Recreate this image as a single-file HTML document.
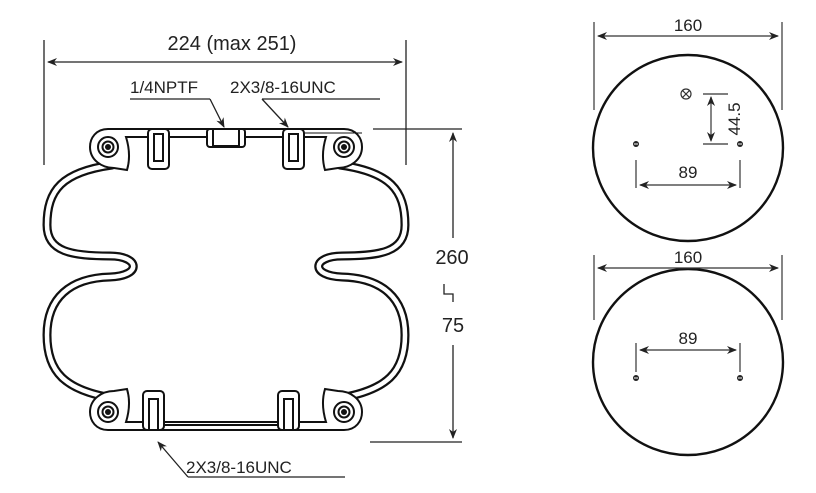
<!DOCTYPE html>
<html><head><meta charset="utf-8"><style>
html,body{margin:0;padding:0;background:#fff;}
svg{display:block;font-family:"Liberation Sans",Arial,sans-serif;}
</style></head><body>
<svg width="816" height="493" viewBox="0 0 816 493" xmlns="http://www.w3.org/2000/svg">
<defs>
<marker id="a" viewBox="0 0 10 10" refX="9" refY="5" markerWidth="10" markerHeight="10" orient="auto-start-reverse" markerUnits="userSpaceOnUse"><path d="M0,1 L10,5 L0,9 L3,5 Z" fill="#222"/></marker>
<g id="side">
<path d="M112,165 C62,172 47,190 47,225 C47,252 72,256 110,256 C140,256 142,276 110,277 C70,278 47,298 47,335 C47,372 65,390 112,398" fill="none"/>
</g>
</defs>
<g stroke="#222" stroke-width="1.3" fill="none">
<line x1="44" y1="40" x2="44" y2="165"/>
<line x1="406" y1="40" x2="406" y2="165"/>
<line x1="48" y1="62" x2="402" y2="62" marker-start="url(#a)" marker-end="url(#a)"/>
<line x1="130" y1="99" x2="210" y2="99"/>
<line x1="210" y1="99" x2="224" y2="127" marker-end="url(#a)"/>
<line x1="262" y1="99" x2="380" y2="99"/>
<line x1="262" y1="99" x2="288" y2="127" marker-end="url(#a)"/>
<line x1="373" y1="129" x2="462" y2="129"/>
<line x1="370" y1="442" x2="462" y2="442"/>
<line x1="453" y1="133" x2="453" y2="238" marker-start="url(#a)"/>
<line x1="453" y1="345" x2="453" y2="438" marker-end="url(#a)"/>
<polyline points="444,284 444,294 453,294 453,302"/>
<line x1="188" y1="477" x2="158" y2="442" marker-end="url(#a)"/>
<line x1="188" y1="477" x2="345" y2="477"/>
</g>
<g fill="#222" font-size="20">
<text x="232" y="50" text-anchor="middle">224 (max 251)</text>
<text x="452" y="264" text-anchor="middle">260</text>
<text x="453" y="332" text-anchor="middle">75</text>
</g>
<g fill="#222" font-size="17">
<text x="130" y="93">1/4NPTF</text>
<text x="230" y="93">2X3/8-16UNC</text>
<text x="186" y="473">2X3/8-16UNC</text>
</g>
<g fill="none" stroke-linejoin="round" stroke-linecap="round">
<g stroke="#111" stroke-width="9">
<use href="#side"/><use href="#side" transform="translate(452,0) scale(-1,1)"/>
</g>
<g stroke="#fff" stroke-width="4.5">
<use href="#side"/><use href="#side" transform="translate(452,0) scale(-1,1)"/>
</g>
</g>
<g fill="#fff" stroke="#111" stroke-width="2">
<path d="M108,129 L344,129 C356,129 362,138 362,147 C362,160 350,168 338,168 L325,170 C322,160 322,150 326,137 L126,137 C130,150 130,160 127,170 L114,168 C102,168 90,160 90,147 C90,138 96,129 108,129 Z"/>
<circle cx="108" cy="147" r="10"/><circle cx="344" cy="147" r="10"/>
<circle cx="108" cy="147" r="5.5"/><circle cx="344" cy="147" r="5.5"/>
<rect x="148" y="129" width="21" height="40" rx="4"/>
<rect x="283" y="129" width="21" height="40" rx="4"/>
<rect x="154" y="134" width="9" height="27"/>
<rect x="289" y="134" width="9" height="27"/>
<rect x="207" y="129" width="38" height="18" rx="3"/>
<rect x="213" y="129" width="26" height="17"/>
<path d="M108,430 L344,430 C356,430 362,421 362,412 C362,399 350,391 338,391 L325,389 C322,399 322,409 326,422 L126,422 C130,409 130,399 127,389 L114,391 C102,391 90,399 90,412 C90,421 96,430 108,430 Z"/>
<circle cx="108" cy="412" r="10"/><circle cx="344" cy="412" r="10"/>
<circle cx="108" cy="412" r="5.5"/><circle cx="344" cy="412" r="5.5"/>
<rect x="143" y="391" width="21" height="39" rx="4"/>
<rect x="278" y="391" width="21" height="39" rx="4"/>
<rect x="149" y="399" width="9" height="31"/>
<rect x="284" y="399" width="9" height="31"/>
<line x1="164" y1="425" x2="278" y2="425"/>
<line x1="304" y1="133" x2="362" y2="133" stroke-width="1"/>
</g>
<g fill="#111">
<circle cx="108" cy="147" r="3"/><circle cx="344" cy="147" r="3"/>
<circle cx="108" cy="412" r="3"/><circle cx="344" cy="412" r="3"/>
</g>
<g stroke="#111" fill="none">
<ellipse cx="688" cy="148" rx="95" ry="93" stroke-width="2.4"/>
<ellipse cx="688" cy="362" rx="95" ry="93" stroke-width="2.4"/>
<g stroke-width="1.2" stroke="#333">
<line x1="594" y1="22" x2="594" y2="110"/><line x1="782" y1="22" x2="782" y2="110"/>
<line x1="598" y1="36" x2="778" y2="36" marker-start="url(#a)" marker-end="url(#a)"/>
<line x1="594" y1="255" x2="594" y2="320"/><line x1="782" y1="255" x2="782" y2="320"/>
<line x1="598" y1="268" x2="778" y2="268" marker-start="url(#a)" marker-end="url(#a)"/>
<circle cx="686" cy="94" r="5"/>
<line x1="682.5" y1="90.5" x2="689.5" y2="97.5"/><line x1="689.5" y1="90.5" x2="682.5" y2="97.5"/>
<line x1="703" y1="94" x2="728" y2="94"/><line x1="703" y1="144" x2="728" y2="144"/>
<line x1="711" y1="97" x2="711" y2="141" marker-start="url(#a)" marker-end="url(#a)"/>
<line x1="636" y1="160" x2="636" y2="188"/><line x1="740" y1="160" x2="740" y2="188"/>
<line x1="640" y1="185" x2="736" y2="185" marker-start="url(#a)" marker-end="url(#a)"/>
<line x1="636" y1="343" x2="636" y2="372"/><line x1="740" y1="343" x2="740" y2="372"/>
<line x1="640" y1="350" x2="736" y2="350" marker-start="url(#a)" marker-end="url(#a)"/>
</g>
</g>
<g fill="#222">
<circle cx="636" cy="144" r="3"/><circle cx="740" cy="144" r="3"/>
<circle cx="636" cy="378" r="3"/><circle cx="740" cy="378" r="3"/>
</g>
<g fill="#fff"><rect x="634" y="143.5" width="4" height="1"/><rect x="738" y="143.5" width="4" height="1"/><rect x="634" y="377.5" width="4" height="1"/><rect x="738" y="377.5" width="4" height="1"/></g>
<g fill="#222" font-size="17" text-anchor="middle">
<text x="688" y="31">160</text>
<text x="688" y="263">160</text>
<text x="688" y="178">89</text>
<text x="688" y="344">89</text>
<text x="0" y="0" transform="translate(740,119) rotate(-90)">44.5</text>
</g>
</svg>
</body></html>
